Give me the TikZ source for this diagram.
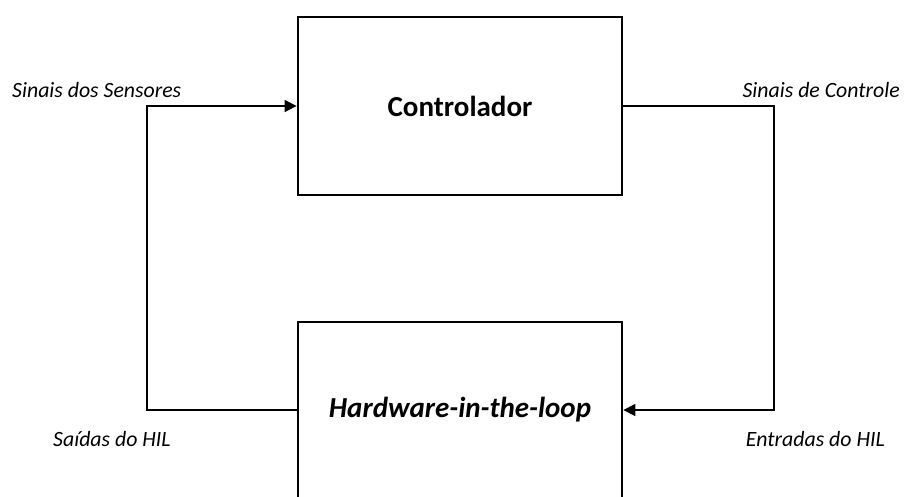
\documentclass[tikz,border=0pt]{standalone}
\usepackage{fontspec}
\setmainfont{Carlito}
\usetikzlibrary{arrows.meta}
\begin{document}
\begin{tikzpicture}[x=1pt,y=-1pt,
  block/.style={draw,line width=2.8pt,minimum width=324pt,inner sep=0pt},
  wire/.style={line width=1.6pt},
  sig/.style={font=\fontsize{21.8}{26}\selectfont\itshape,inner sep=0pt},
  tip/.style={-{Triangle[length=12pt,width=12pt]}}]
  \useasboundingbox (0,0) rectangle (907,496);
  % blocks
  \node[block,minimum height=178pt,font=\fontsize{29}{34}\selectfont\bfseries] (ctrl) at (460,106) {Controlador};
  \node[block,minimum height=176pt,font=\fontsize{29}{34}\selectfont\bfseries\itshape] (hil) at (460,410) {Hardware-in-the-loop};
  % return paths
  \coordinate (lx) at (147,0);
  \coordinate (rx) at (774,0);
  \draw[wire,tip] (hil.west) -- (hil.west -| lx) |- (ctrl.west);
  \draw[wire,tip] (ctrl.east) -- (ctrl.east -| rx) |- (hil.east);
  % signal labels
  \node[sig,anchor=west] (s1) at (12,90) {Sinais dos Sensores};
  \node[sig,anchor=east] (s2) at (900,90) {Sinais de Controle};
  \node[sig,anchor=west] (s3) at (53,439) {Saídas do HIL};
  \node[sig,anchor=east] (s4) at (885,439) {Entradas do HIL};
\end{tikzpicture}
\end{document}
